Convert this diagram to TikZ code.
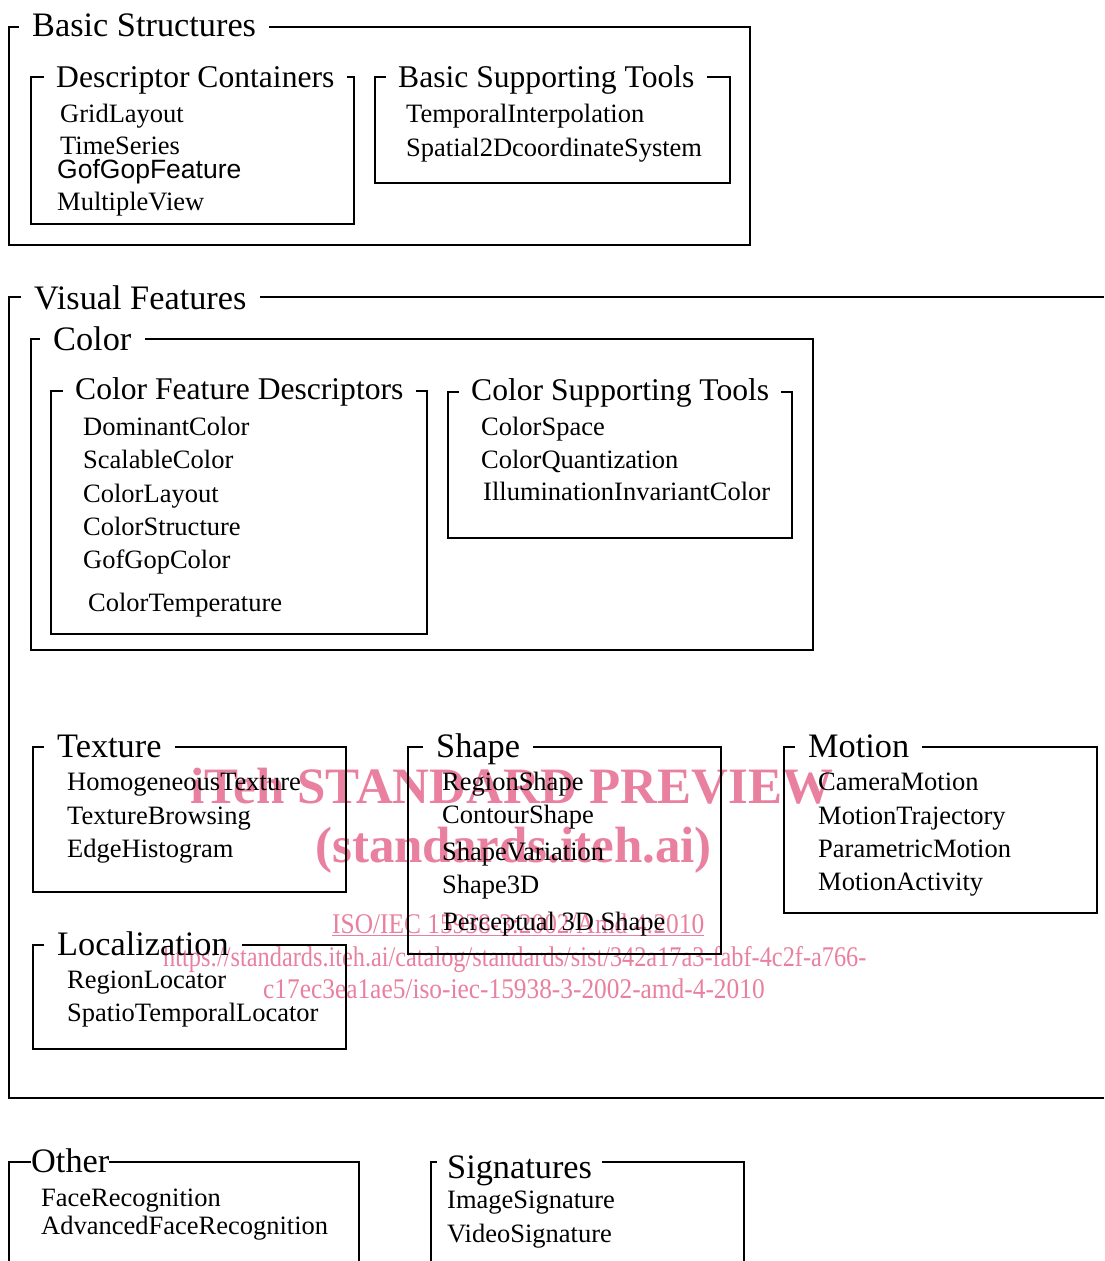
\documentclass[tikz,border=0pt]{standalone}
\usepackage{fontspec}
\setmainfont{Liberation Serif}
\newfontfamily\sansf{Liberation Sans}
\newfontfamily\wmfont{Liberation Serif}[FakeStretch=0.89]
\definecolor{wm}{RGB}{234,128,160}
\tikzset{
  box/.style={line width=1.4pt, line join=miter},
  big/.style={font=\fontsize{34.3}{36}\selectfont, anchor=base west, inner xsep=13pt, inner ysep=0pt},
  sub/.style={font=\fontsize{31.6}{34}\selectfont, anchor=base west, inner xsep=12pt, inner ysep=0pt},
  item/.style={font=\fontsize{26.5}{28}\selectfont, anchor=base west, inner sep=0pt},
  sitem/.style={font=\sansf\fontsize{26.5}{28}\selectfont, anchor=base west, inner sep=0pt},
  wmb/.style={font=\bfseries\fontsize{51}{52}\selectfont, text=wm, anchor=base west, inner sep=0pt},
  wmr/.style={font=\wmfont\fontsize{28.5}{30}\selectfont, text=wm, anchor=base west, inner sep=0pt},
}
\begin{document}
\begin{tikzpicture}[x=1pt,y=-1pt]
\useasboundingbox[fill=white] (0,0) rectangle (1104,1261);

% watermark
\node[wmb] (w1) at (190,803) {iTeh STANDARD PREVIEW};
\node[wmb] (w2) at (315,862) {(standards.iteh.ai)};
\node[wmr] (w3) at (332,933) {\underline{ISO/IEC 15938-3:2002/Amd 4:2010}};
\node[wmr] (w4) at (163,966) {\scalebox{0.958}[1]{https://standards.iteh.ai/catalog/standards/sist/342a17a3-fabf-4c2f-a766-}};
\node[wmr] (w5) at (263,998) {c17ec3ea1ae5/iso-iec-15938-3-2002-amd-4-2010};

% Basic Structures
\node[big] (bsT) at (19,36) {Basic Structures};
\coordinate (bsTL) at (9,27); \coordinate (bsTR) at (750,27);
\coordinate (bsBR) at (750,245); \coordinate (bsBL) at (9,245);
\draw[box] (bsT.east |- bsTL) -- (bsTR) -- (bsBR) -- (bsBL) -- (bsTL) -- (bsT.west |- bsTL);

% Descriptor Containers
\node[sub] (dcT) at (44,87) {Descriptor Containers};
\coordinate (dcTL) at (31,77); \coordinate (dcTR) at (354,77);
\coordinate (dcBR) at (354,224); \coordinate (dcBL) at (31,224);
\draw[box] (dcT.east |- dcTL) -- (dcTR) -- (dcBR) -- (dcBL) -- (dcTL) -- (dcT.west |- dcTL);
\node[item] (dc1) at (60,122) {GridLayout};
\node[item] (dc2) at (60,154) {TimeSeries};
\node[sitem] (dc3) at (57,178) {GofGopFeature};
\node[item] (dc4) at (57,210) {MultipleView};

% Basic Supporting Tools
\node[sub] (btT) at (386,87) {Basic Supporting Tools};
\coordinate (btTL) at (375,77); \coordinate (btTR) at (730,77);
\coordinate (btBR) at (730,183); \coordinate (btBL) at (375,183);
\draw[box] (btT.east |- btTL) -- (btTR) -- (btBR) -- (btBL) -- (btTL) -- (btT.west |- btTL);
\node[item] (bt1) at (406,122) {TemporalInterpolation};
\node[item] (bt2) at (406,156) {Spatial2DcoordinateSystem};

% Visual Features
\node[big] (vfT) at (21,309) {Visual Features};
\coordinate (vfTL) at (9,297); \coordinate (vfTR) at (1104,297);
\coordinate (vfBR) at (1104,1098); \coordinate (vfBL) at (9,1098);
\draw[box] (vfT.east |- vfTL) -- (vfTR);
\draw[box] (vfBR) -- (vfBL) -- (vfTL) -- (vfT.west |- vfTL);

% Color
\node[big] (coT) at (40,350) {Color};
\coordinate (coTL) at (31,339); \coordinate (coTR) at (813,339);
\coordinate (coBR) at (813,650); \coordinate (coBL) at (31,650);
\draw[box] (coT.east |- coTL) -- (coTR) -- (coBR) -- (coBL) -- (coTL) -- (coT.west |- coTL);

% Color Feature Descriptors
\node[sub] (cfT) at (63,399) {Color Feature Descriptors};
\coordinate (cfTL) at (51,391); \coordinate (cfTR) at (427,391);
\coordinate (cfBR) at (427,634); \coordinate (cfBL) at (51,634);
\draw[box] (cfT.east |- cfTL) -- (cfTR) -- (cfBR) -- (cfBL) -- (cfTL) -- (cfT.west |- cfTL);
\node[item] (cf1) at (83,435) {DominantColor};
\node[item] (cf2) at (83,468) {ScalableColor};
\node[item] (cf3) at (83,502) {ColorLayout};
\node[item] (cf4) at (83,535) {ColorStructure};
\node[item] (cf5) at (83,568) {GofGopColor};
\node[item] (cf6) at (88,611) {ColorTemperature};

% Color Supporting Tools
\node[sub] (csT) at (459,400) {Color Supporting Tools};
\coordinate (csTL) at (448,392); \coordinate (csTR) at (792,392);
\coordinate (csBR) at (792,538); \coordinate (csBL) at (448,538);
\draw[box] (csT.east |- csTL) -- (csTR) -- (csBR) -- (csBL) -- (csTL) -- (csT.west |- csTL);
\node[item] (cs1) at (481,435) {ColorSpace};
\node[item] (cs2) at (481,468) {ColorQuantization};
\node[item] (cs3) at (483,500) {IlluminationInvariantColor};

% Texture
\node[big] (txT) at (44,757) {Texture};
\coordinate (txTL) at (33,747); \coordinate (txTR) at (346,747);
\coordinate (txBR) at (346,892); \coordinate (txBL) at (33,892);
\draw[box] (txT.east |- txTL) -- (txTR) -- (txBR) -- (txBL) -- (txTL) -- (txT.west |- txTL);
\node[item] (tx1) at (67,790) {HomogeneousTexture};
\node[item] (tx2) at (67,824) {TextureBrowsing};
\node[item] (tx3) at (67,857) {EdgeHistogram};

% Localization
\node[big] (loT) at (44,955) {Localization};
\coordinate (loTL) at (33,945); \coordinate (loTR) at (346,945);
\coordinate (loBR) at (346,1049); \coordinate (loBL) at (33,1049);
\draw[box] (loT.east |- loTL) -- (loTR) -- (loBR) -- (loBL) -- (loTL) -- (loT.west |- loTL);
\node[item] (lo1) at (67,988) {RegionLocator};
\node[item] (lo2) at (67,1021) {SpatioTemporalLocator};

% Shape
\node[big] (shT) at (423,757) {Shape};
\coordinate (shTL) at (408,747); \coordinate (shTR) at (721,747);
\coordinate (shBR) at (721,954); \coordinate (shBL) at (408,954);
\draw[box] (shT.east |- shTL) -- (shTR) -- (shBR) -- (shBL) -- (shTL) -- (shT.west |- shTL);
\node[item] (sh1) at (442,790) {RegionShape};
\node[item] (sh2) at (442,823) {ContourShape};
\node[item] (sh3) at (442,860) {ShapeVariation};
\node[item] (sh4) at (442,893) {Shape3D};
\node[item] (sh5) at (443,930) {Perceptual 3D Shape};

% Motion
\node[big] (moT) at (795,757) {Motion};
\coordinate (moTL) at (784,747); \coordinate (moTR) at (1097,747);
\coordinate (moBR) at (1097,913); \coordinate (moBL) at (784,913);
\draw[box] (moT.east |- moTL) -- (moTR) -- (moBR) -- (moBL) -- (moTL) -- (moT.west |- moTL);
\node[item] (mo1) at (818,790) {CameraMotion};
\node[item] (mo2) at (818,824) {MotionTrajectory};
\node[item] (mo3) at (818,857) {ParametricMotion};
\node[item] (mo4) at (818,890) {MotionActivity};

% Other
\node[big, inner xsep=0pt] (otT) at (31,1172) {Other};
\coordinate (otTL) at (9,1162); \coordinate (otTR) at (359,1162);
\coordinate (otBR) at (359,1262); \coordinate (otBL) at (9,1262);
\draw[box] (otT.east |- otTL) -- (otTR) -- (otBR);
\draw[box] (otBL) -- (otTL) -- (otT.west |- otTL);
\node[item] (ot1) at (41,1206) {FaceRecognition};
\node[item] (ot2) at (41,1234) {AdvancedFaceRecognition};

% Signatures
\node[big, inner xsep=10pt] (sgT) at (437,1178) {Signatures};
\coordinate (sgTL) at (431,1162); \coordinate (sgTR) at (744,1162);
\coordinate (sgBR) at (744,1262); \coordinate (sgBL) at (431,1262);
\draw[box] (sgT.east |- sgTL) -- (sgTR) -- (sgBR);
\draw[box] (sgBL) -- (sgTL) -- (sgT.west |- sgTL);
\node[item] (sg1) at (447,1208) {ImageSignature};
\node[item] (sg2) at (447,1242) {VideoSignature};
\end{tikzpicture}
\end{document}
